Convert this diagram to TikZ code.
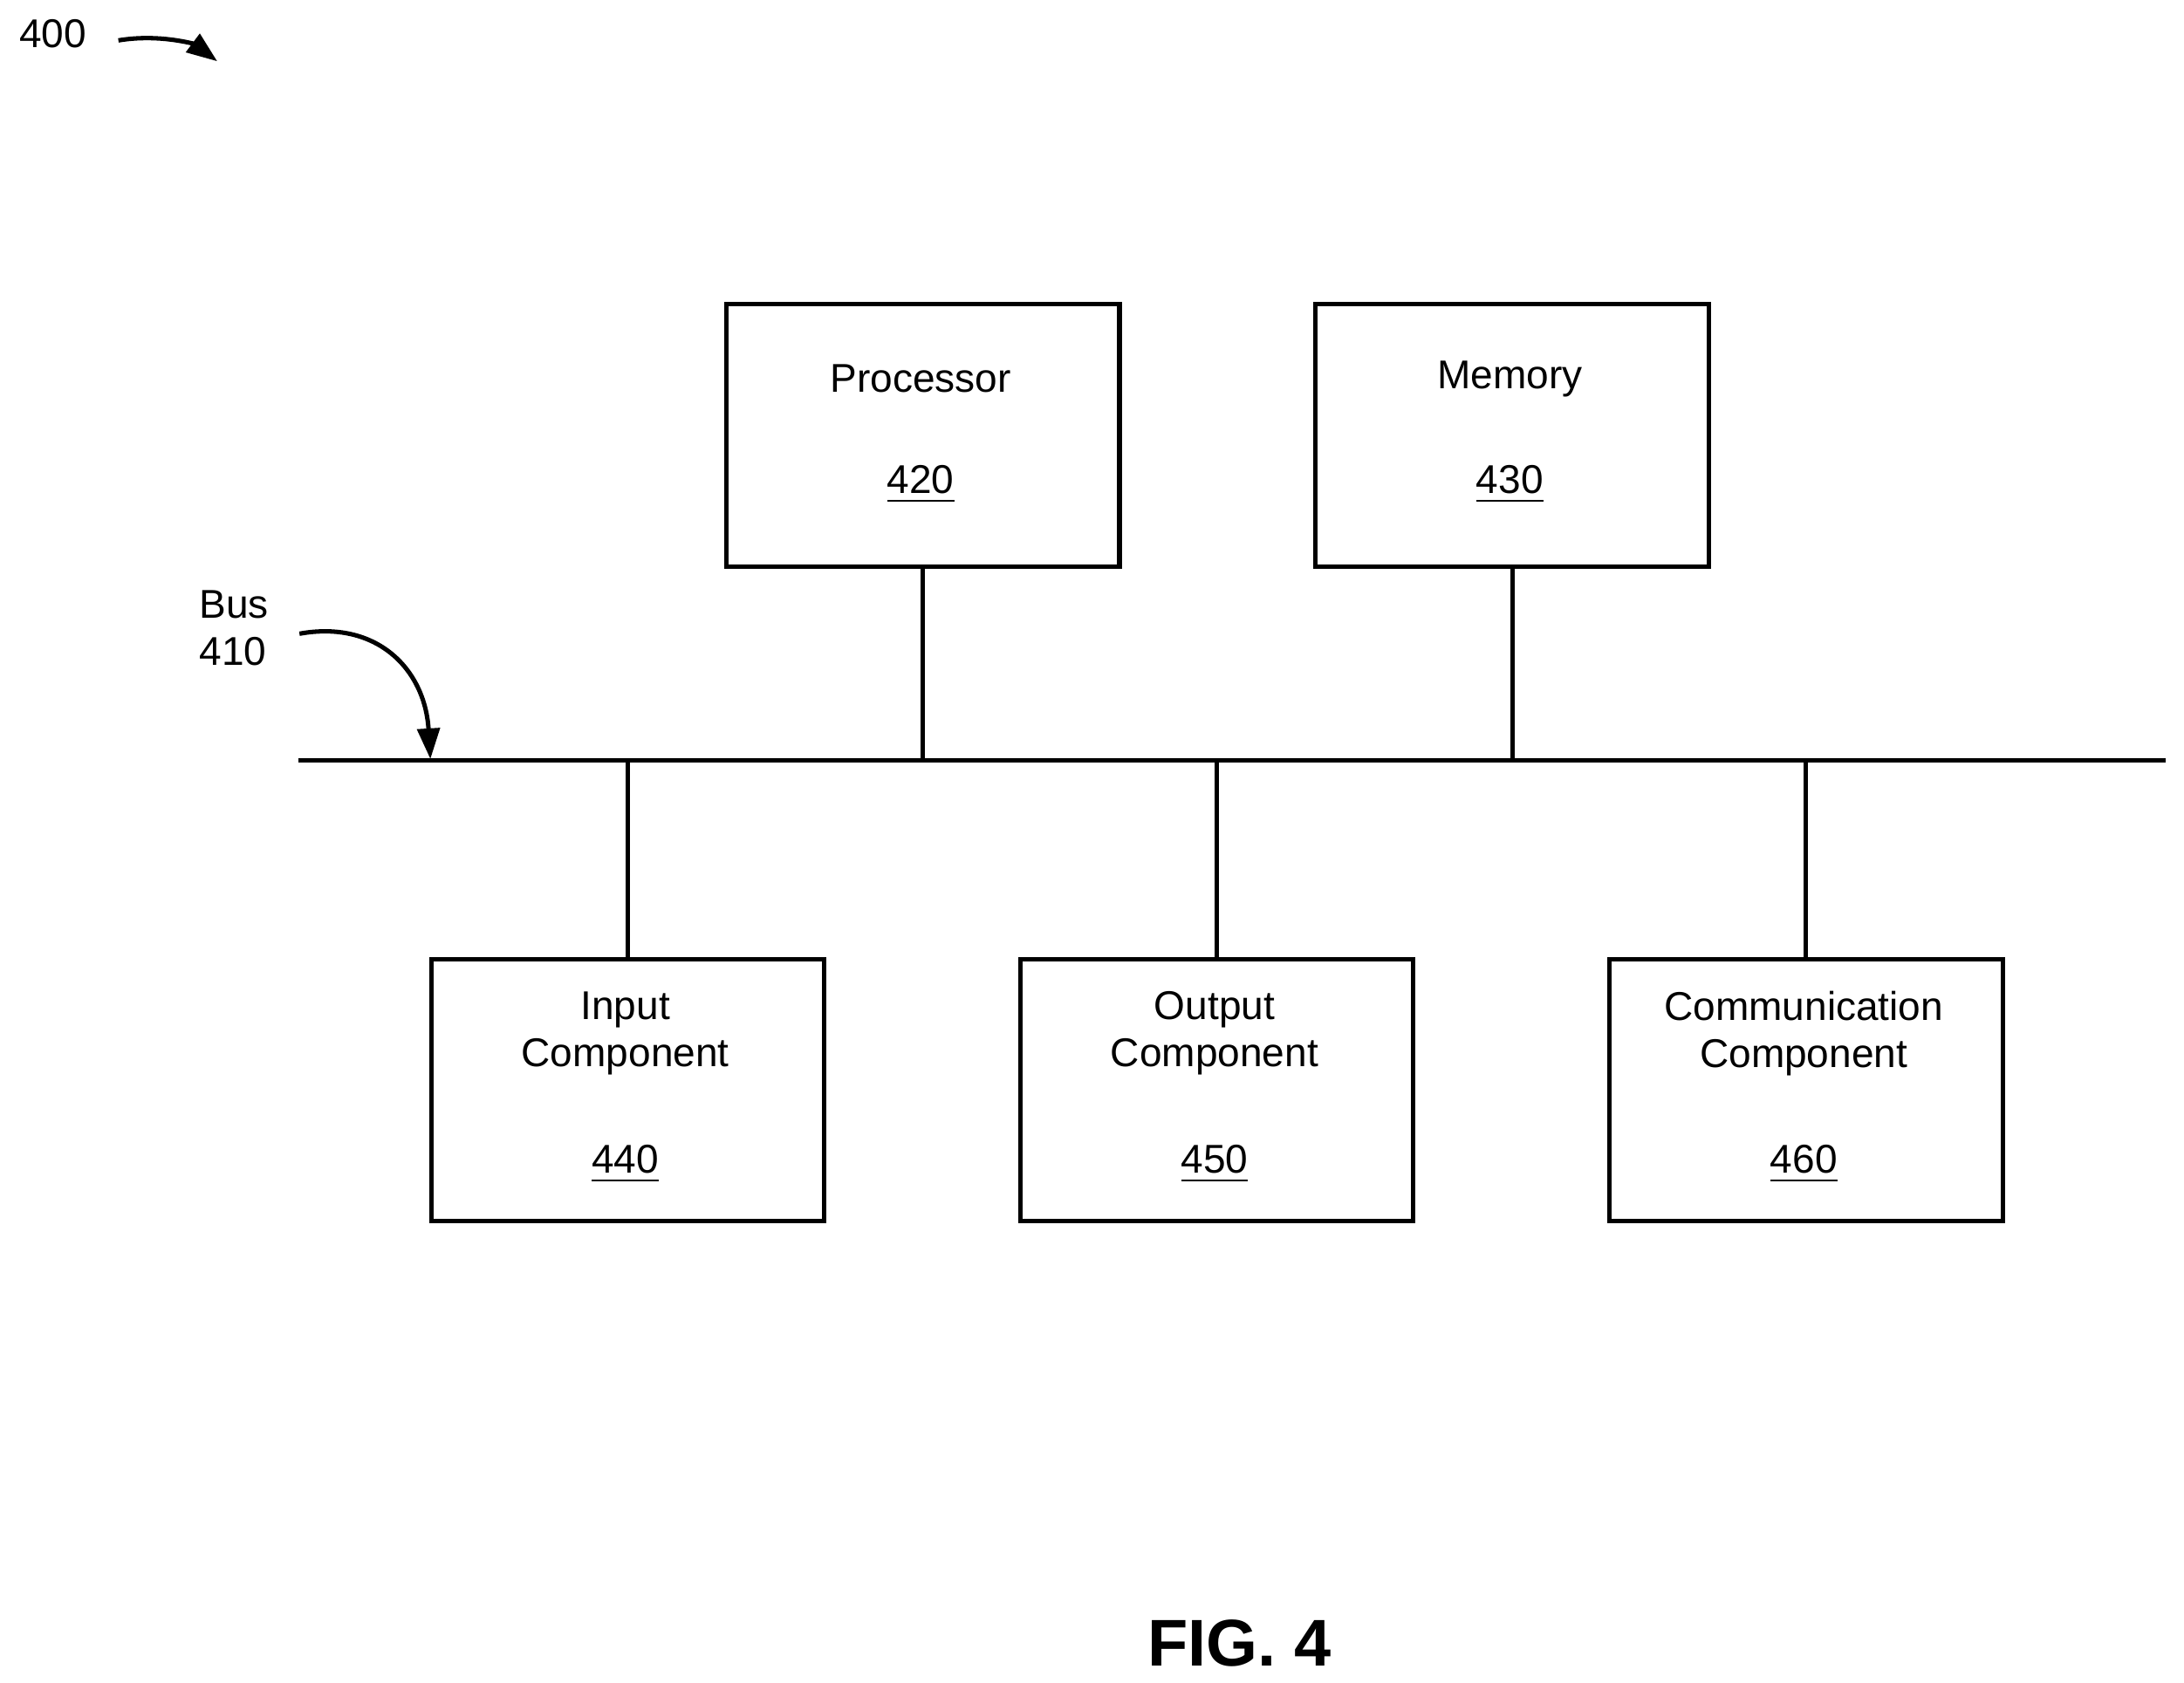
\documentclass[tikz,border=0pt]{standalone}
\usepackage{fontspec}
\setmainfont{Liberation Sans}
\usetikzlibrary{arrows.meta}
\begin{document}
\begin{tikzpicture}[x=0.01cm,y=-0.01cm,
  box/.style={draw,line width=0.9pt,minimum width=2.82cm,minimum height=1.88cm,anchor=north west},
  lbl/.style={font=\fontsize{8.2}{9.6}\selectfont,align=center},
  ln/.style={line width=0.9pt},
  arr/.style={line width=0.9pt,-{Triangle[length=0.22cm,width=0.16cm]}}]
\useasboundingbox (0,0) rectangle (1568,1208);
\node[box] (p) at (520,217) {};
\node[box] (m) at (943,217) {};
\node[box] (i) at (308,687) {};
\node[box] (o) at (731,687) {};
\node[box] (c) at (1154,687) {};
\node[lbl] at (661,272) {Processor};
\node[lbl] at (661,348) {\underline{420}};
\node[lbl] at (1084,272) {Memory};
\node[lbl] at (1084,348) {\underline{430}};
\node[lbl] at (449,742) {Input\\Component};
\node[lbl] at (449,836) {\underline{440}};
\node[lbl] at (872,742) {Output\\Component};
\node[lbl] at (872,836) {\underline{450}};
\node[lbl] at (1295,742) {Communication\\Component};
\node[lbl] at (1295,836) {\underline{460}};
\coordinate (bl) at (214,546);
\coordinate (br) at (1555,546);
\draw[ln] (bl) -- (br);
\draw[ln] (p.south) -- (p.south |- bl);
\draw[ln] (m.south) -- (m.south |- bl);
\draw[ln] (i.north) -- (i.north |- bl);
\draw[ln] (o.north) -- (o.north |- bl);
\draw[ln] (c.north) -- (c.north |- bl);
\node[lbl,align=left] (bus) at (168,451) {Bus\\410};
\coordinate (bt) at (309,545);
\draw[arr] (215,455) .. controls (270,445) and (305,480) .. (bt);
\node[lbl] (n400) at (38,24) {400};
\coordinate (at) at (156,44);
\draw[arr] (85,29) .. controls (115,24) and (140,32) .. (at);
\node[font=\fontsize{13.5}{15}\selectfont\bfseries] (fig) at (890,1180) {FIG. 4};
\end{tikzpicture}
\end{document}
